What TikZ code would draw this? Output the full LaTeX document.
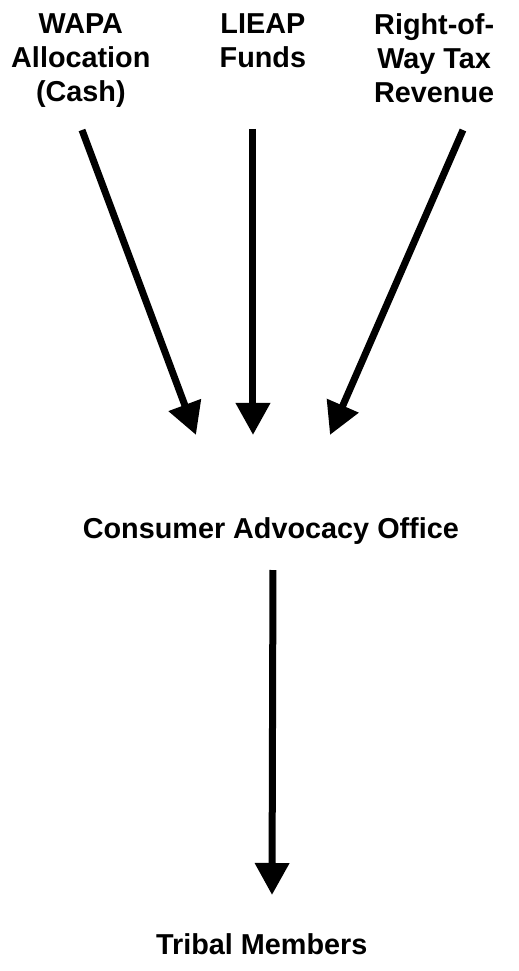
\documentclass[tikz,border=0pt]{standalone}
\usepackage{fontspec}
\setmainfont{Liberation Sans}
\usepackage{tikz}
\usetikzlibrary{
    arrows.meta,
    positioning
}
\tikzset{
  label/.style = {inner sep=0pt, align=center,
                  font=\fontsize{14.4}{17}\selectfont\bfseries},
  flow/.style  = {-{Triangle[length=16pt,width=16.5pt]}, line width=3.5pt}
}

\begin{document}
\begin{tikzpicture}
    \useasboundingbox (0,0) rectangle (9.103,-17.064);

    % funding sources
    \node[label, anchor=north] (wapa)  at (1.42,-0.24) {WAPA\\Allocation\\(Cash)};
    \node[label, anchor=north] (lieap) at (4.62,-0.24) {LIEAP\\Funds};
    \node[label, anchor=north] (tax)   at (7.63,-0.24) {Right-of-\\Way Tax\\Revenue};

    \node[label, anchor=base] (cao)     at (4.76,-9.455) {Consumer Advocacy Office};
    \node[label, anchor=base] (members) at (4.60,-16.78) {Tribal Members};

    % arrow ends
    \coordinate (wapa-out)  at (1.441,-2.285);
    \coordinate (lieap-out) at (4.446,-2.267);
    \coordinate (tax-out)   at (8.136,-2.285);
    \coordinate (cao-in1)   at (3.444,-7.644);
    \coordinate (cao-in2)   at (4.446,-7.644);
    \coordinate (cao-in3)   at (5.799,-7.644);
    \coordinate (cao-out)   at (4.797,-10.017);
    \coordinate (members-in) at (4.780,-15.728);

    \draw[flow] (wapa-out)  -- (cao-in1);
    \draw[flow] (lieap-out) -- (cao-in2);
    \draw[flow] (tax-out)   -- (cao-in3);
    \draw[flow] (cao-out)   -- (members-in);
\end{tikzpicture}
\end{document}
